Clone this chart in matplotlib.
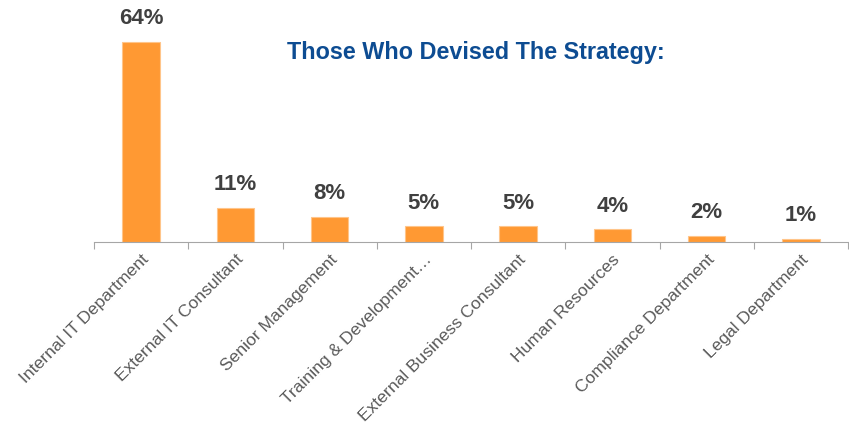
import matplotlib
matplotlib.use("Agg")
import matplotlib.pyplot as plt
import numpy as np

plt.rcParams['font.family'] = ['Liberation Sans', 'DejaVu Sans']

categories = ["Internal IT Department", "External IT Consultant", "Senior Management",
              "Training & Development\u2026", "External Business Consultant",
              "Human Resources", "Compliance Department", "Legal Department"]
values = [64, 11, 8, 5, 5, 4, 2, 1]
labels = ["64%", "11%", "8%", "5%", "5%", "4%", "2%", "1%"]

fig = plt.figure(figsize=(8.49, 4.25), dpi=100)
ax = fig.add_axes([94/849, 183/425, 754/849, 242/425])

x = np.arange(len(categories))
ax.bar(x, values, width=0.4, color="#FF9933", edgecolor="#FFC58A", linewidth=0.8, zorder=2)
for xi, v, lab in zip(x, values, labels):
    ax.text(xi, v + 4.0, lab, ha="center", va="bottom", fontsize=16, fontweight="bold", color="#404040")

ax.set_xlim(-0.5, len(categories) - 0.5)
ax.set_ylim(0, 77.4)
ax.set_yticks([])
for s in ["top", "right", "left"]:
    ax.spines[s].set_visible(False)
ax.spines["bottom"].set_color("#A6A6A6")

# tick marks at category boundaries, labels at centres
ax.set_xticks(np.arange(len(categories) + 1) - 0.5)
ax.set_xticklabels([])
ax.tick_params(axis="x", length=5, color="#A6A6A6", direction="out")
ax.set_xticks(x, minor=True)
ax.set_xticklabels(categories, minor=True, rotation=45, ha="right", rotation_mode="anchor",
                   fontsize=12.6, color="#595959")
ax.tick_params(axis="x", which="minor", length=0, pad=7)

fig.text(476/849, 1 - 53/425, "Those Who Devised The Strategy:", ha="center", va="center",
         fontsize=16.8, fontweight="bold", color="#0D4C92")

fig.savefig("out.png", dpi=100)
